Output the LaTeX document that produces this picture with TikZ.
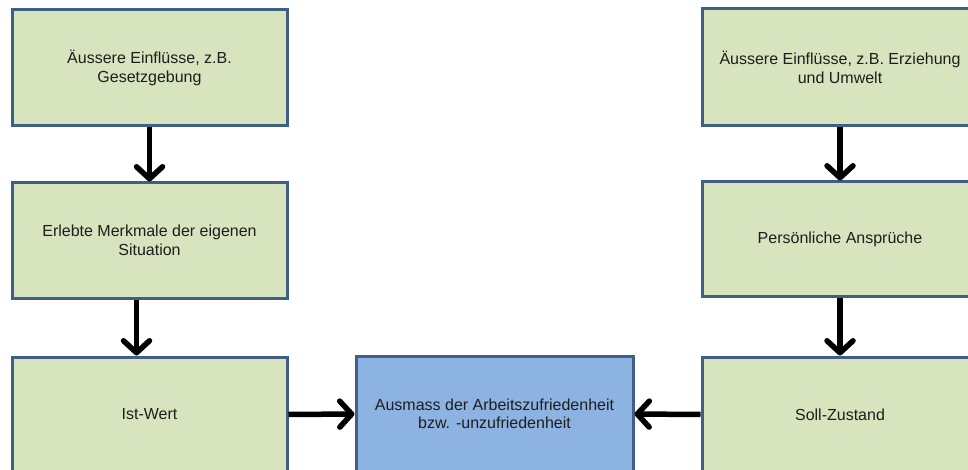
\documentclass[tikz,border=0pt]{standalone}
\usepackage{fontspec}
\setmainfont{Liberation Sans}
\usetikzlibrary{arrows.meta}
\definecolor{boxgreen}{HTML}{D7E4BD}
\definecolor{boxblue}{HTML}{8DB3E2}
\definecolor{boxline}{HTML}{3F5F86}
\definecolor{txt}{HTML}{1E1E1E}
\begin{document}
\begin{tikzpicture}[x=1pt,y=-1pt,
  gbox/.style={draw=boxline, line width=3pt, fill=boxgreen, rectangle,
    inner sep=0pt, align=center, text=txt,
    font=\fontsize{16}{18.5}\selectfont},
  bbox/.style={gbox, fill=boxblue},
  arr/.style={line width=5.5pt, draw=black,
    -{Straight Barb[length=12pt,width=26pt,line cap=round,line join=round]}}
]
\useasboundingbox (0,0) rectangle (968,470);
\clip (0,0) rectangle (968,470);
% left column
\node[gbox, minimum width=275pt, minimum height=116pt] (l1) at (149.5,68)
  {Äussere Einflüsse, z.B.\\Gesetzgebung};
\node[gbox, minimum width=275pt, minimum height=115pt] (l2) at (149.5,240.5)
  {Erlebte Merkmale der eigenen\\Situation};
\node[gbox, minimum width=275pt, minimum height=115pt] (l3) at (149.5,414.5)
  {Ist-Wert};
% middle
\node[bbox, minimum width=277pt, minimum height=116pt] (m) at (494.5,414)
  {Ausmass der Arbeitszufriedenheit\\bzw. -unzufriedenheit};
% right column
\node[gbox, minimum width=276pt, minimum height=117pt] (r1) at (840,67.5)
  {Äussere Einflüsse, z.B. Erziehung\\und Umwelt};
\node[gbox, minimum width=276pt, minimum height=114pt] (r2) at (840,239)
  {Persönliche Ansprüche};
\node[gbox, minimum width=276pt, minimum height=115pt] (r3) at (840,414.5)
  {Soll-Zustand};
% arrows
\draw[arr] (l1.south) -- (l2.north);
\draw[arr] ([xshift=-13pt]l2.south) -- ([xshift=-13pt]l3.north);
\draw[arr] (r1.south) -- (r2.north);
\draw[arr] (r2.south) -- (r3.north);
\draw[arr] (l3.east) -- (m.west);
\draw[arr] (r3.west) -- (m.east);
\end{tikzpicture}
\end{document}
